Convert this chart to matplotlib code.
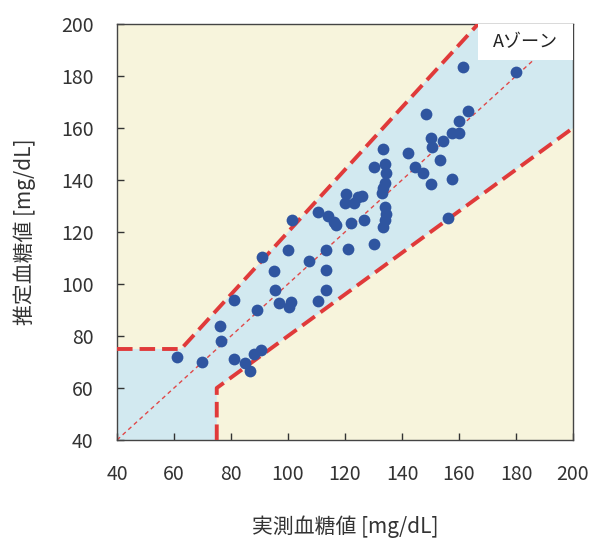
import matplotlib
matplotlib.use("Agg")
import matplotlib.pyplot as plt
from matplotlib.patches import Rectangle

plt.rcParams['font.family'] = ['Noto Sans CJK JP', 'DejaVu Sans']

# measured vs estimated glucose [mg/dL]
measured = [61, 70, 76, 76.5, 81, 81, 85, 86.5, 88, 90.5, 89, 91, 95, 95.5, 97,
            101, 100.5, 100, 101.5, 107.5, 110.5, 110.5, 113.5, 113.5, 113.5,
            114, 116, 117, 120, 120.5, 121, 122, 123, 124.5, 126, 126.5, 130,
            130, 133.5, 134, 134.5, 134, 133.5, 133, 134, 134.5, 134, 133.5,
            142, 144.5, 147.5, 150, 153.5, 157.5, 156, 148.5, 150, 150.5, 154.5,
            157.5, 160, 160, 163, 161.5, 180]
estimated = [72, 70, 84, 78, 94, 71, 69.5, 66.5, 73, 74.5, 90, 110.5, 105, 97.5,
             92.5, 93, 91, 113, 124.5, 109, 127.5, 93.5, 113, 105.5, 97.5, 126,
             124, 122.5, 131, 134.5, 113.5, 123.5, 131, 133.5, 134, 124.5, 115.5,
             145, 152, 146, 142.5, 139, 137, 135, 129.5, 127, 124.5, 122, 150.5,
             145, 142.5, 138.5, 147.5, 140.5, 125.5, 165.5, 156, 152.5, 155, 158,
             158, 162.5, 166.5, 183.5, 181.5]

ticks = [40, 60, 80, 100, 120, 140, 160, 180, 200]

# zone A boundary (Clarke error grid)
upper_x = [40, 62.5, 166.7]
upper_y = [75, 75, 200]
lower_x = [75, 75, 200]
lower_y = [40, 60, 160]

fig = plt.figure(figsize=(6.04, 5.4), dpi=100)
ax = fig.add_axes([0.1937, 0.1852, 0.755, 0.7704])

ax.set_facecolor('#f7f4dc')
zone_x = [40, 75, 75, 200, 200, 166.7, 62.5, 40]
zone_y = [40, 40, 60, 160, 200, 200, 75, 75]
ax.fill(zone_x, zone_y, color='#d2e9f0', zorder=1, lw=0)

ax.plot([40, 200], [40, 200], color='#e04848', lw=1.0,
        linestyle=(0, (3, 2.5)), zorder=2)
ax.plot(upper_x, upper_y, color='#e03a3a', lw=2.8,
        linestyle=(0, (4, 1.8)), zorder=3, solid_joinstyle='round')
ax.plot(lower_x, lower_y, color='#e03a3a', lw=2.8,
        linestyle=(0, (4, 1.8)), zorder=3)

ax.scatter(measured, estimated, s=72, color='#2f55a0', zorder=4, lw=0)

ax.set_xlim(40, 200)
ax.set_ylim(40, 200)
ax.set_xticks(ticks)
ax.set_yticks(ticks)
ax.tick_params(direction='in', length=5, width=1, pad=17, labelsize=14,
               colors='#333333')
for s in ax.spines.values():
    s.set_color('#444444')
    s.set_linewidth(1.0)

ax.set_xlabel('実測血糖値 [mg/dL]', fontsize=15, labelpad=22, color='#333333')
ax.set_ylabel('推定血糖値 [mg/dL]', fontsize=15, labelpad=18, color='#333333')

# zone label box in the top-right corner
ax.add_patch(Rectangle((0.792, 0.913), 0.208, 0.087, transform=ax.transAxes,
                       fc='white', ec='none', zorder=5))
ax.text(0.896, 0.9565, 'Aゾーン', transform=ax.transAxes, ha='center',
        va='center', fontsize=13, color='#222222', zorder=6)

fig.savefig('out.png', dpi=100)
